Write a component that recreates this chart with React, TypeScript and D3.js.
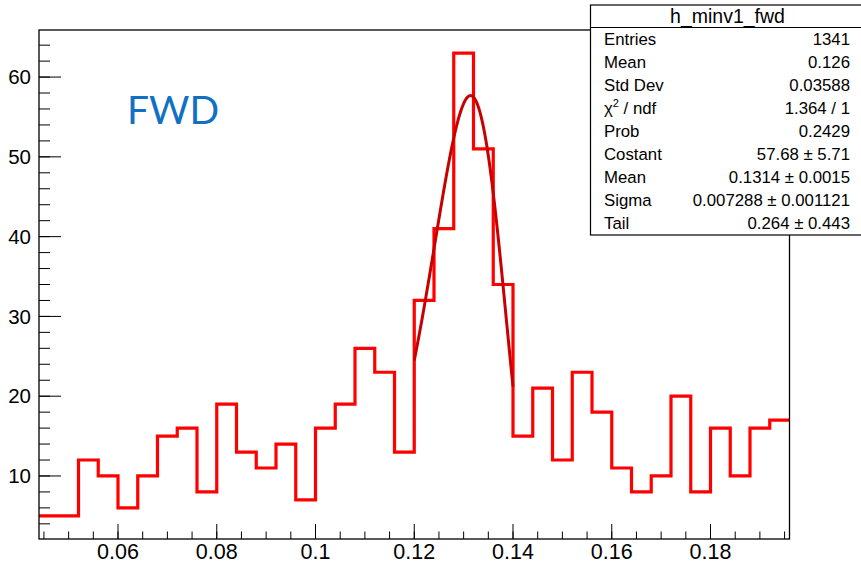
import React from 'react';
import * as d3 from 'd3';

// ---- data ----
const binStart = 0.044;
const binWidth = 0.004;
const binCounts = [5, 5, 12, 10, 6, 10, 15, 16, 8, 19, 13, 11, 14, 7, 16, 19, 26, 23, 13, 32, 41, 63, 51, 34, 15, 21, 12, 23, 18, 11, 8, 10, 20, 8, 16, 10, 16, 17];
const xTicks = [0.06, 0.08, 0.1, 0.12, 0.14, 0.16, 0.18];
const xTickLabels = ['0.06', '0.08', '0.1', '0.12', '0.14', '0.16', '0.18'];
const yTicks = [10, 20, 30, 40, 50, 60];
const statsTitle = 'h_minv1_fwd';
const statsLabels = ['Entries', 'Mean', 'Std Dev', 'CHI', 'Prob', 'Costant', 'Mean', 'Sigma', 'Tail'];
const statsValues = ['1341', '0.126', '0.03588', '1.364 / 1', '0.2429', '57.68 \u00b1 5.71', '0.1314 \u00b1 0.0015', '0.007288 \u00b1 0.001121', '0.264 \u00b1 0.443'];
const fitConstant = 57.68;
const fitMean = 0.1314;
const fitSigma = 0.007288;
const fitTail = 0.264;
const fitRange = [0.12, 0.14];
const labelText = 'FWD';

const W = 861;
const H = 564;
const frame = { left: 39, right: 789.5, top: 30, bottom: 539 };

export default function App() {
  const x = d3.scaleLinear().domain([0.044, 0.196]).range([frame.left, frame.right]);
  const y = d3.scaleLinear().domain([2.1, 65.9]).range([frame.bottom, frame.top]);

  // histogram step path
  let hp = '';
  binCounts.forEach((c, i) => {
    const x0 = x(binStart + i * binWidth);
    const x1 = x(binStart + (i + 1) * binWidth);
    const yy = y(c);
    if (i === 0) hp += `M${x0},${yy}`;
    else hp += `V${yy}`;
    hp += `H${x1}`;
  });

  // fit curve
  const fitFn = (v: number) => {
    const q = 1 - (fitTail * (v - fitMean)) / fitSigma;
    const l = Math.log(q) / fitTail;
    return fitConstant * Math.exp(-0.5 * l * l);
  };
  const pts: [number, number][] = d3.range(0, 201).map((k) => {
    const v = fitRange[0] + ((fitRange[1] - fitRange[0]) * k) / 200;
    return [x(v), y(fitFn(v))];
  });
  const fitPath = d3.line()(pts) || '';

  const xMinor = d3.range(0.045, 0.1951, 0.005);
  const yMinor = d3.range(4, 65, 2);

  const font = "'Liberation Sans', Arial, Helvetica, sans-serif";
  const box = { left: 590.5, top: 5, right: 864.5, bottom: 235, sep: 27.5 };
  const rowH = (box.bottom - box.sep) / statsLabels.length;

  return (
    <svg width={W} height={H} style={{ position: 'absolute', left: 0, top: 0, background: '#fff' }} fontFamily={font}>
      <rect x={0} y={0} width={W} height={H} fill="#fff" />
      <path d={hp} fill="none" stroke="#ff0000" strokeWidth={3.2} strokeLinejoin="miter" />
      <path d={fitPath} fill="none" stroke="#c80000" strokeWidth={3} />
      {/* frame */}
      <rect x={frame.left} y={frame.top} width={frame.right - frame.left} height={frame.bottom - frame.top} fill="none" stroke="#000" strokeWidth={1.3} />
      {/* x ticks */}
      {xMinor.map((t, i) => (
        <line key={'xm' + i} x1={x(t)} x2={x(t)} y1={frame.bottom} y2={frame.bottom - 7.5} stroke="#000" strokeWidth={1} />
      ))}
      {xTicks.map((t, i) => (
        <g key={'xt' + i}>
          <line x1={x(t)} x2={x(t)} y1={frame.bottom} y2={frame.bottom - 15} stroke="#000" strokeWidth={1} />
          <text x={x(t)} y={558.5} textAnchor="middle" fontSize={21.5} fill="#000">{xTickLabels[i]}</text>
        </g>
      ))}
      {/* y ticks */}
      {yMinor.map((t, i) => (
        <line key={'ym' + i} x1={frame.left} x2={frame.left + 11} y1={y(t)} y2={y(t)} stroke="#000" strokeWidth={1} />
      ))}
      {yTicks.map((t, i) => (
        <g key={'yt' + i}>
          <line x1={frame.left} x2={frame.left + 22} y1={y(t)} y2={y(t)} stroke="#000" strokeWidth={1} />
          <text x={31} y={y(t) + 7.3} textAnchor="end" fontSize={20.5} fill="#000">{t}</text>
        </g>
      ))}
      {/* FWD label */}
      <text x={127} y={123.5} fontSize={39} fontFamily="Lato, 'Open Sans', sans-serif" fill="#1170c4">{labelText}</text>
      {/* stats box */}
      <rect x={box.left} y={box.top} width={box.right - box.left} height={box.bottom - box.top} fill="#fff" stroke="#000" strokeWidth={1.2} />
      <line x1={box.left} x2={box.right} y1={box.sep} y2={box.sep} stroke="#000" strokeWidth={1.2} />
      <text x={(box.left + box.right) / 2} y={23} textAnchor="middle" fontSize={19.5} fill="#000">{statsTitle}</text>
      {statsLabels.map((lab, i) => {
        const by = box.sep + rowH * (i + 0.5) + 5.8;
        return (
          <g key={'st' + i}>
            {lab === 'CHI' ? (
              <text x={604} y={by} fontSize={16.8} fill="#000">
                {'\u03c7'}
                <tspan fontSize={11} dy={-7}>2</tspan>
                <tspan dy={7}>{' / ndf'}</tspan>
              </text>
            ) : (
              <text x={604} y={by} fontSize={16.8} fill="#000">{lab}</text>
            )}
            <text x={850} y={by} textAnchor="end" fontSize={16.8} fill="#000">{statsValues[i]}</text>
          </g>
        );
      })}
    </svg>
  );
}
